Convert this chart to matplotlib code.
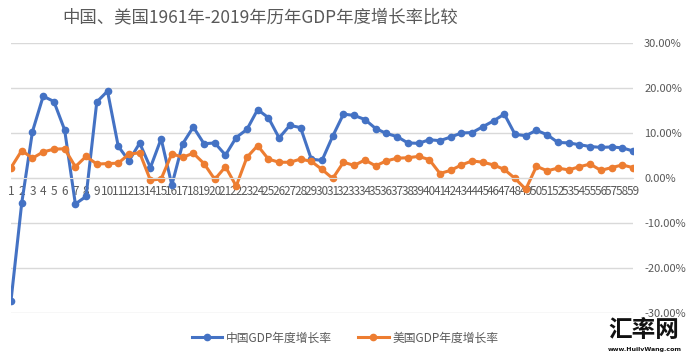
import numpy as np
import matplotlib.pyplot as plt
from matplotlib.ticker import FuncFormatter, MultipleLocator

plt.rcParams['font.family'] = ['Noto Sans CJK SC', 'DejaVu Sans']

# years 1961-2019 shown as index 1..59
idx = list(range(1, 60))

china_growth = [-27.27, -5.58, 10.30, 18.18, 17.0, 10.7, -5.77, -4.1, 16.9, 19.3,
                7.06, 3.81, 7.76, 2.31, 8.72, -1.57, 7.57, 11.33, 7.6, 7.8,
                5.1, 9.0, 10.8, 15.2, 13.4, 8.9, 11.7, 11.2, 4.2, 3.9,
                9.3, 14.2, 13.9, 13.0, 11.0, 9.9, 9.2, 7.8, 7.7, 8.5,
                8.3, 9.1, 10.0, 10.1, 11.4, 12.7, 14.2, 9.7, 9.4, 10.6,
                9.6, 7.9, 7.8, 7.4, 7.0, 6.8, 6.9, 6.7, 6.0]

us_growth = [2.3, 6.1, 4.4, 5.8, 6.4, 6.5, 2.5, 4.8, 3.1, 3.2,
             3.3, 5.3, 5.6, -0.5, -0.2, 5.4, 4.6, 5.5, 3.2, -0.3,
             2.5, -1.8, 4.6, 7.2, 4.2, 3.5, 3.5, 4.2, 3.7, 1.9,
             -0.1, 3.5, 2.8, 4.0, 2.7, 3.8, 4.4, 4.5, 4.8, 4.1,
             1.0, 1.7, 2.9, 3.8, 3.5, 2.9, 1.9, -0.1, -2.5, 2.6,
             1.6, 2.2, 1.8, 2.5, 3.1, 1.7, 2.3, 2.9, 2.3]

title = '中国、美国1961年-2019年历年GDP年度增长率比较'
series_names = ['中国GDP年度增长率', '美国GDP年度增长率']

blue = '#4472C4'
orange = '#ED7D31'
grid_c = '#D9D9D9'
text_c = '#595959'

fig = plt.figure(figsize=(6.9, 3.55), dpi=100)
ax = fig.add_axes([11 / 690, 1 - 313 / 355, (633 - 11) / 690, (313 - 43) / 355])

ax.plot(idx, china_growth, color=blue, lw=2.2, marker='o', ms=4.5,
        label=series_names[0], solid_joinstyle='round')
ax.plot(idx, us_growth, color=orange, lw=2.2, marker='o', ms=4.5,
        label=series_names[1], solid_joinstyle='round')

ax.set_xlim(1, 59)
ax.set_ylim(-30, 30)
ax.yaxis.set_major_locator(MultipleLocator(10))
ax.yaxis.set_major_formatter(FuncFormatter(lambda v, p: f'{v:.2f}%'))
ax.yaxis.tick_right()
ax.grid(axis='y', color=grid_c, lw=1)
ax.set_axisbelow(True)

for s in ['top', 'left', 'right']:
    ax.spines[s].set_visible(False)
ax.spines['bottom'].set_position(('data', 0))
ax.spines['bottom'].set_color(grid_c)

ax.set_xticks(idx)
ax.set_xticklabels([str(i) for i in idx])
ax.tick_params(axis='x', length=0, pad=5, labelsize=8.5, labelcolor=text_c)
ax.tick_params(axis='y', length=0, pad=8, labelsize=8, labelcolor=text_c)

fig.text(260 / 690, 1 - 17 / 355, title, ha='center', va='center',
         fontsize=12.5, color=text_c)

fig.legend(loc='center', bbox_to_anchor=(345 / 690, 1 - 338 / 355), ncol=2,
           frameon=False, fontsize=8.5, labelcolor=text_c, handlelength=2.6,
           columnspacing=2.2, handletextpad=0.3)

# watermark
fig.text(644 / 690, 1 - 330 / 355, '汇率网', ha='center', va='center',
         fontsize=17, fontweight='bold', color='#111111',
         bbox=dict(facecolor='white', edgecolor='none', pad=0.5))
fig.text(645 / 690, 1 - 350 / 355, 'www.HuilvWang.com', ha='center', va='center',
         fontsize=4.5, fontweight='bold', color='#111111', family='DejaVu Sans')

fig.savefig('out.png', dpi=100)
